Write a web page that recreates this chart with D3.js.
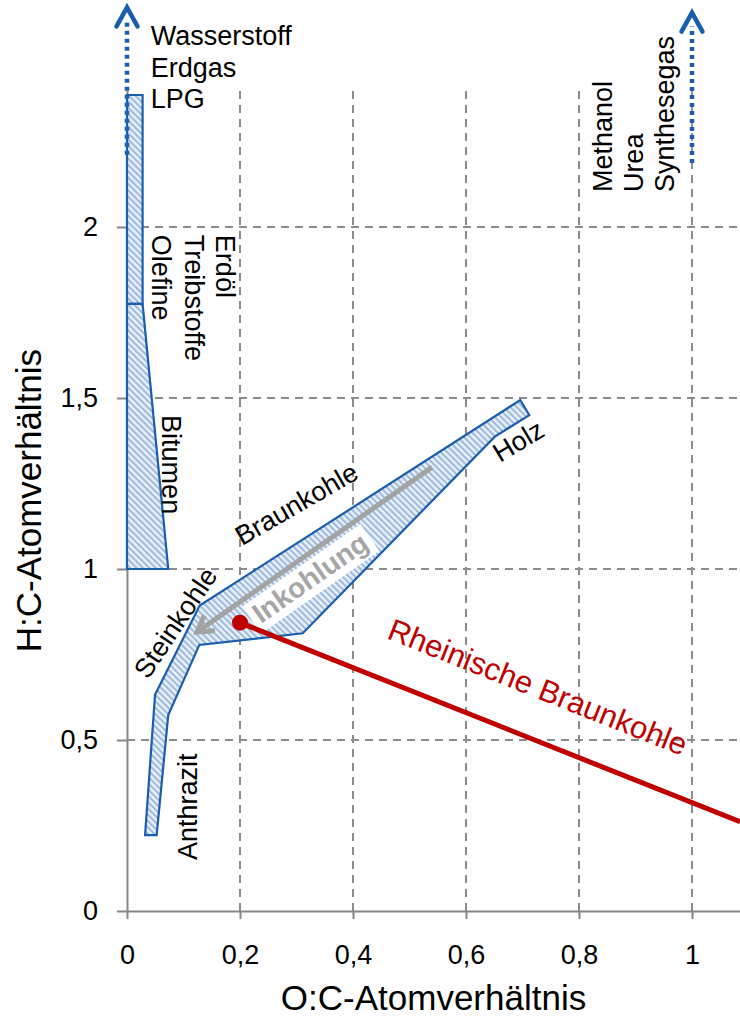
<!DOCTYPE html>
<html><head><meta charset="utf-8">
<script src="https://cdn.jsdelivr.net/npm/d3@7"></script>
<style>
html,body{margin:0;padding:0;background:#fff;}
svg{display:block;font-family:"Liberation Sans",Arial,sans-serif;}
</style></head>
<body><svg id="chart" width="740" height="1016"></svg>
<script>
// ---- data ----
const xTicks = [0, 0.2, 0.4, 0.6, 0.8, 1];
const xTickLabels = ["0", "0,2", "0,4", "0,6", "0,8", "1"];
const yTicks = [0, 0.5, 1, 1.5, 2];
const yTickLabels = ["0", "0,5", "1", "1,5", "2"];
const xTitle = "O:C-Atomverhältnis";
const yTitle = "H:C-Atomverhältnis";

// regions [O:C, H:C]
const oilRegion = [[0, 2.386], [0.0276, 2.386], [0.0276, 1.775], [0, 1.775]];
const bitumenRegion = [[0, 1.775], [0.0276, 1.775], [0.073, 1.0], [0, 1.0]];
const coalBand = [[0.696, 1.494], [0.712, 1.450], [0.651, 1.387], [0.311, 0.812],
                  [0.128, 0.778], [0.073, 0.573], [0.0525, 0.222], [0.032, 0.222],
                  [0.0496, 0.632], [0.1286, 0.893]];
const inkohlungArrow = [[0.540, 1.298], [0.124, 0.816]];
const rheinischeLine = [[0.2, 0.843], [1.085, 0.261]];
const gasArrowLeft = [[0, 2.211], [0, 2.642]];
const gasArrowRight = [[1, 2.187], [1, 2.627]];

const gasLabels = ["Wasserstoff", "Erdgas", "LPG"];
const oilLabels = ["Olefine", "Treibstoffe", "Erdöl"];
const synLabels = ["Methanol", "Urea", "Synthesegas"];

// ---- scales ----
const svg = d3.select("#chart");
const x = d3.scaleLinear().domain([0, 613 / 565]).range([127, 740]);
const y = d3.scaleLinear().domain([0, 2.4]).range([911, 90.2]);
const yTop = 2.4;
const gridColor = "#8c8c8c";
const blue = "#1a5eae";
const red = "#c00000";
const grey = "#a3a3a3";

// pattern
const defs = svg.append("defs");
const pat = defs.append("pattern").attr("id", "hatch").attr("patternUnits", "userSpaceOnUse")
  .attr("width", 4.5).attr("height", 4.5).attr("patternTransform", "rotate(-45)");
pat.append("rect").attr("width", 4.5).attr("height", 4.5).attr("fill", "#e8eff8");
pat.append("rect").attr("width", 2).attr("height", 4.5).attr("fill", "#9db9dc");

// gridlines
svg.append("g").selectAll("line").data(yTicks.filter(d => d > 0)).join("line")
  .attr("x1", x(0)).attr("x2", 740).attr("y1", d => y(d)).attr("y2", d => y(d))
  .attr("stroke", gridColor).attr("stroke-width", 2).attr("stroke-dasharray", "8,6");
svg.append("g").selectAll("line").data(xTicks.filter(d => d > 0)).join("line")
  .attr("x1", d => x(d)).attr("x2", d => x(d)).attr("y1", y(0)).attr("y2", y(yTop))
  .attr("stroke", gridColor).attr("stroke-width", 2).attr("stroke-dasharray", "8,6");

// axes
const xAxis = d3.axisBottom(x).tickValues(xTicks).tickFormat((d, i) => xTickLabels[i])
  .tickSize(8).tickSizeOuter(0).tickPadding(26);
const gx = svg.append("g").attr("transform", `translate(0,${y(0)})`).call(xAxis);
const yAxis = d3.axisLeft(y).tickValues(yTicks).tickFormat((d, i) => yTickLabels[i])
  .tickSize(10).tickSizeOuter(0).tickPadding(19);
const gy = svg.append("g").attr("transform", `translate(${x(0)},0)`).call(yAxis);
[gx, gy].forEach(g => {
  g.select(".domain").attr("stroke", "#868686").attr("stroke-width", 2);
  g.selectAll(".tick line").attr("stroke", "#868686").attr("stroke-width", 2);
  g.selectAll(".tick text").attr("fill", "#000").attr("font-size", 27)
    .attr("font-family", "Liberation Sans, Arial, sans-serif");
});

// axis titles
svg.append("text").attr("x", (x(0) + 740) / 2).attr("y", 1010).attr("text-anchor", "middle")
  .attr("font-size", 35).attr("fill", "#000").text(xTitle);
svg.append("text").attr("transform", `translate(41,${(y(0) + y(yTop)) / 2}) rotate(-90)`)
  .attr("text-anchor", "middle").attr("font-size", 35).attr("fill", "#000").text(yTitle);

// regions
const line = d3.line().x(d => x(d[0])).y(d => y(d[1]));
[oilRegion, bitumenRegion, coalBand].forEach(r => {
  svg.append("path").attr("d", line(r) + "Z").attr("fill", "url(#hatch)")
    .attr("stroke", blue).attr("stroke-width", 2.2).attr("stroke-linejoin", "miter");
});

// Inkohlung label with white box
const ink0 = [x(inkohlungArrow[0][0]), y(inkohlungArrow[0][1])];
const ink1 = [x(inkohlungArrow[1][0]), y(inkohlungArrow[1][1])];
const inkAng = Math.atan2(ink1[1] - ink0[1], ink1[0] - ink0[0]);
const inkG = svg.append("g").attr("transform", `translate(${x(0.334)},${y(0.951)}) rotate(-35)`);
inkG.append("rect").attr("x", -72).attr("y", -25).attr("width", 144).attr("height", 33).attr("fill", "#fff");
inkG.append("text").attr("text-anchor", "middle").attr("font-size", 28).attr("font-weight", "bold")
  .attr("fill", "#a6a6a6").text("Inkohlung");

// Inkohlung arrow
svg.append("path").attr("d", line(inkohlungArrow)).attr("stroke", grey).attr("stroke-width", 5)
  .attr("fill", "none");
const ah = 18, aa = 0.55;
svg.append("path")
  .attr("d", `M${ink1[0] - ah * Math.cos(inkAng - aa)},${ink1[1] - ah * Math.sin(inkAng - aa)}L${ink1[0]},${ink1[1]}L${ink1[0] - ah * Math.cos(inkAng + aa)},${ink1[1] - ah * Math.sin(inkAng + aa)}`)
  .attr("stroke", grey).attr("stroke-width", 5).attr("fill", "none").attr("stroke-linejoin", "miter");

// blue dotted arrows
[gasArrowLeft, gasArrowRight].forEach(a => {
  const tx = x(a[1][0]), ty = y(a[1][1]);
  svg.append("line").attr("x1", x(a[0][0])).attr("x2", tx).attr("y1", y(a[0][1])).attr("y2", ty + 14)
    .attr("stroke", blue).attr("stroke-width", 4.5).attr("stroke-dasharray", "4,4");
  svg.append("path").attr("d", `M${tx - 10.5},${ty + 19}L${tx},${ty}L${tx + 10.5},${ty + 19}`)
    .attr("stroke", blue).attr("stroke-width", 4.5).attr("fill", "none").attr("stroke-linecap", "round");
});

// Rheinische Braunkohle
svg.append("path").attr("d", line(rheinischeLine)).attr("stroke", red).attr("stroke-width", 5).attr("fill", "none");
svg.append("circle").attr("cx", x(rheinischeLine[0][0])).attr("cy", y(rheinischeLine[0][1])).attr("r", 8).attr("fill", red);
svg.append("text").attr("transform", `translate(${x(0.458)},${y(0.798)}) rotate(21.7)`)
  .attr("font-size", 31).attr("fill", red).text("Rheinische Braunkohle");

// labels
const lab = (txt, vx, vy, ang, anchor) => svg.append("text")
  .attr("transform", `translate(${x(vx)},${y(vy)}) rotate(${ang})`)
  .attr("text-anchor", anchor || "start").attr("font-size", 27).attr("fill", "#000").text(txt);

[2.532, 2.439, 2.348].forEach((v, i) => lab(gasLabels[i], 0.042, v, 0));
[0.0442, 0.1027, 0.1575].forEach((v, i) => lab(oilLabels[i], v, 1.977, 90));
[0.858, 0.913, 0.968].forEach((v, i) => lab(synLabels[i], v, 2.102, -90));
lab("Bitumen", 0.062, 1.450, 90);
lab("Braunkohle", 0.2035, 1.067, -30);
lab("Steinkohle", 0.037, 0.675, -56);
lab("Anthrazit", 0.124, 0.149, -90);
lab("Holz", 0.660, 1.310, -31);
</script></body></html>
